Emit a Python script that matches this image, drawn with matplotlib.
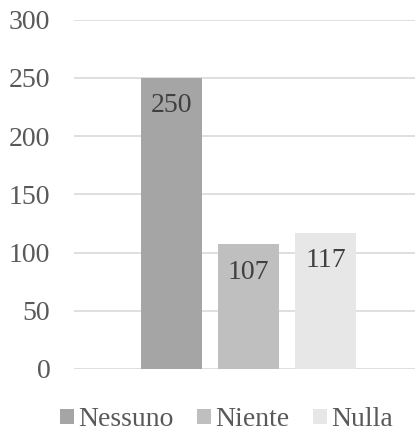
import matplotlib
matplotlib.use("Agg")
import matplotlib.pyplot as plt
from matplotlib.patches import Patch

series = ["Nessuno", "Niente", "Nulla"]
values = [250, 107, 117]
colors = ["#A5A5A5", "#BFBFBF", "#E7E7E7"]
yticks = [0, 50, 100, 150, 200, 250, 300]

plt.rcParams['font.family'] = ['Liberation Serif', 'DejaVu Serif']

fig = plt.figure(figsize=(4.15, 4.32), dpi=100)
ax = fig.add_axes([74/415, 63/432, 341/415, 349.3/432])

pos = list(range(len(series)))
bars = ax.bar(pos, values, width=61/77, color=colors, zorder=2)
for p, v in zip(pos, values):
    ax.annotate(str(v), (p, v), xytext=(0, -11), textcoords='offset points',
                ha='center', va='top', fontsize=20, color='#404040')

ax.set_xlim(-1.266, 3.162)
ax.set_ylim(0, 300)
ax.set_yticks(yticks)
ax.set_yticklabels([str(t) for t in yticks], fontsize=20, color='#595959')
ax.set_xticks([])
ax.tick_params(axis='y', length=0, pad=17)
ax.grid(axis='y', color='#D9D9D9', linewidth=1.2, zorder=0)
for s in ax.spines.values():
    s.set_visible(False)

handles = [Patch(facecolor=c, edgecolor='none') for c in colors]
leg = fig.legend(handles, series, loc='center', bbox_to_anchor=(0.545, 0.028),
                 ncol=3, frameon=False, fontsize=20, handlelength=0.5,
                 handleheight=0.5, handletextpad=0.15, columnspacing=0.85)
for t in leg.get_texts():
    t.set_color('#595959')

fig.savefig("out.png", dpi=100)
